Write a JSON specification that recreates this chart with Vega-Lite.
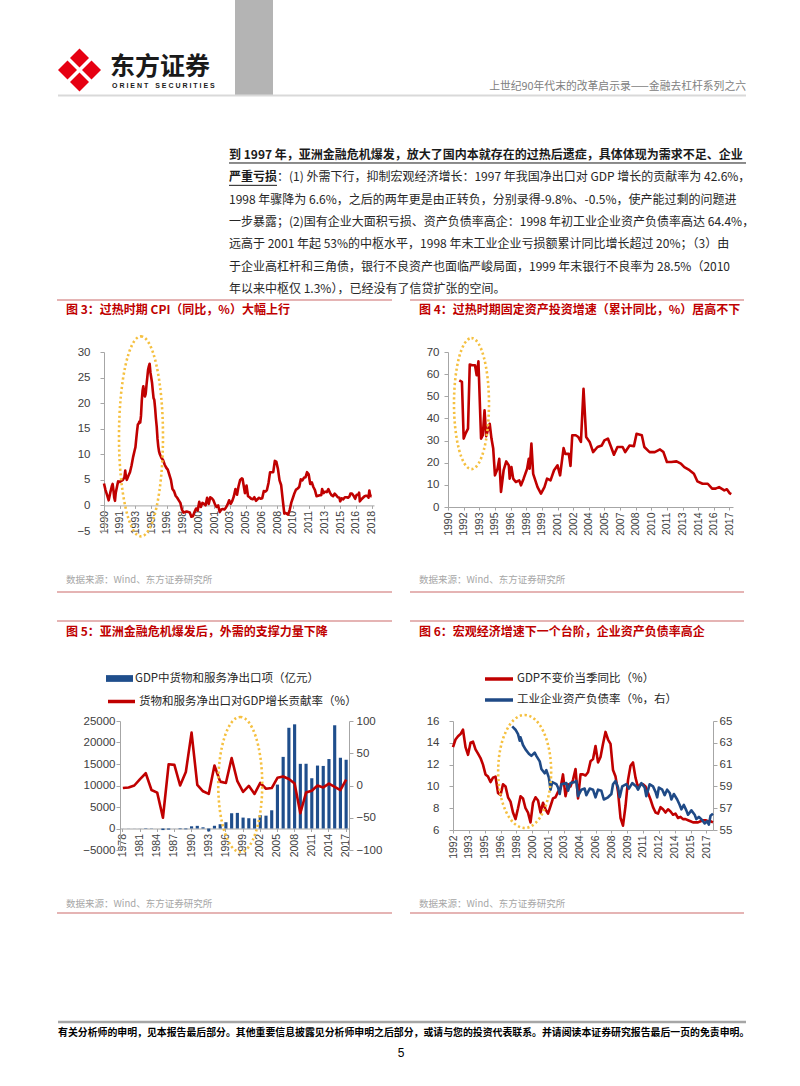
{
"$schema": "https://vega.github.io/schema/vega-lite/v6.json",
"background": "white",
"padding": {"left": 56, "top": 0, "right": 10, "bottom": 10},
"autosize": {"type": "pad"},
"bounds": "flush",
"spacing": 0,
"resolve": {"scale": {"color": "independent", "stroke": "independent"}, "legend": {"color": "independent", "stroke": "independent"}},
"config": {
  "view": {"stroke": null},
  "axis": {"labelFont": "Liberation Sans", "labelColor": "#404040", "labelFontSize": 11.5, "domainColor": "#a6a6a6", "tickColor": "#a6a6a6", "tickSize": 4, "grid": false, "labelPadding": 4, "labelOverlap": false, "labelFlush": false, "title": null},
  "legend": {"labelFont": "Noto Sans CJK SC", "labelFontSize": 11.5, "labelColor": "#262626", "labelLimit": 400, "padding": 0, "labelOffset": 2}
},
"datasets": {
  "para": [
    {"line": 1, "part": 1, "em": true, "t": "到 1997 年，亚洲金融危机爆发，放大了国内本就存在的过热后遗症，具体体现为需求不足、企业"},
    {"line": 2, "part": 1, "em": true, "t": "严重亏损"},
    {"line": 2, "part": 2, "em": false, "t": "：(1) 外需下行，抑制宏观经济增长：1997 年我国净出口对 GDP 增长的贡献率为 42.6%，"},
    {"line": 3, "part": 1, "em": false, "t": "1998 年骤降为 6.6%，之后的两年更是由正转负，分别录得-9.8%、-0.5%，使产能过剩的问题进"},
    {"line": 4, "part": 1, "em": false, "t": "一步暴露；(2)国有企业大面积亏损、资产负债率高企：1998 年初工业企业资产负债率高达 64.4%，"},
    {"line": 5, "part": 1, "em": false, "t": "远高于 2001 年起 53%的中枢水平，1998 年末工业企业亏损额累计同比增长超过 20%；（3）由"},
    {"line": 6, "part": 1, "em": false, "t": "于企业高杠杆和三角债，银行不良资产也面临严峻局面，1999 年末银行不良率为 28.5%（2010"},
    {"line": 7, "part": 1, "em": false, "t": "年以来中枢仅 1.3%），已经没有了信贷扩张的空间。"}
  ],
  "cpi": [
    {"d":"1990-01","v":4.3},{"d":"1990-03","v":3.0},{"d":"1990-05","v":2.0},{"d":"1990-07","v":1.0},{"d":"1990-09","v":2.5},{"d":"1990-11","v":3.8},{"d":"1990-12","v":4.2},
    {"d":"1991-01","v":3.0},{"d":"1991-02","v":1.5},{"d":"1991-03","v":0.9},{"d":"1991-04","v":2.5},{"d":"1991-06","v":4.0},{"d":"1991-07","v":4.7},{"d":"1991-09","v":4.6},{"d":"1991-11","v":4.8},
    {"d":"1992-01","v":5.0},{"d":"1992-03","v":5.5},{"d":"1992-04","v":6.8},{"d":"1992-05","v":5.5},{"d":"1992-06","v":5.0},{"d":"1992-08","v":5.8},{"d":"1992-10","v":6.5},{"d":"1992-12","v":7.8},
    {"d":"1993-02","v":9.5},{"d":"1993-04","v":10.8},{"d":"1993-05","v":11.4},{"d":"1993-06","v":13.0},{"d":"1993-07","v":14.5},{"d":"1993-08","v":15.8},{"d":"1993-09","v":16.0},{"d":"1993-10","v":16.4},{"d":"1993-11","v":16.2},{"d":"1993-12","v":17.5},
    {"d":"1994-01","v":20.5},{"d":"1994-02","v":22.5},{"d":"1994-03","v":23.3},{"d":"1994-04","v":22.0},{"d":"1994-05","v":21.3},{"d":"1994-06","v":21.8},{"d":"1994-07","v":23.5},{"d":"1994-08","v":25.0},{"d":"1994-09","v":26.5},{"d":"1994-10","v":27.2},{"d":"1994-11","v":27.7},{"d":"1994-12","v":26.0},
    {"d":"1995-01","v":25.0},{"d":"1995-02","v":24.0},{"d":"1995-03","v":22.5},{"d":"1995-04","v":21.0},{"d":"1995-05","v":20.6},{"d":"1995-06","v":19.0},{"d":"1995-07","v":17.0},{"d":"1995-08","v":15.4},{"d":"1995-09","v":13.0},{"d":"1995-10","v":11.5},{"d":"1995-11","v":10.5},{"d":"1995-12","v":10.0},
    {"d":"1996-02","v":9.3},{"d":"1996-04","v":8.9},{"d":"1996-06","v":8.0},{"d":"1996-08","v":7.4},{"d":"1996-10","v":7.0},{"d":"1996-12","v":6.0},
    {"d":"1997-02","v":5.0},{"d":"1997-04","v":3.2},{"d":"1997-06","v":2.8},{"d":"1997-08","v":1.9},{"d":"1997-10","v":1.5},{"d":"1997-12","v":1.0},
    {"d":"1998-02","v":0.5},{"d":"1998-04","v":-0.8},{"d":"1998-06","v":-1.4},{"d":"1998-08","v":-1.3},{"d":"1998-10","v":-1.2},{"d":"1998-12","v":-1.3},
    {"d":"1999-02","v":-1.4},{"d":"1999-04","v":-2.2},{"d":"1999-06","v":-2.1},{"d":"1999-08","v":-1.3},{"d":"1999-10","v":-0.6},{"d":"1999-12","v":-1.0},
    {"d":"2000-02","v":0.7},{"d":"2000-04","v":-0.3},{"d":"2000-06","v":0.5},{"d":"2000-08","v":0.3},{"d":"2000-10","v":0.0},{"d":"2000-12","v":1.5},
    {"d":"2001-02","v":0.3},{"d":"2001-04","v":1.6},{"d":"2001-06","v":1.4},{"d":"2001-08","v":1.0},{"d":"2001-10","v":0.2},{"d":"2001-12","v":-0.3},
    {"d":"2002-02","v":0.0},{"d":"2002-04","v":-1.3},{"d":"2002-06","v":-0.8},{"d":"2002-08","v":-0.7},{"d":"2002-10","v":-0.8},{"d":"2002-12","v":-0.4},
    {"d":"2003-02","v":0.2},{"d":"2003-04","v":1.0},{"d":"2003-06","v":0.3},{"d":"2003-08","v":0.9},{"d":"2003-10","v":1.8},{"d":"2003-12","v":3.2},
    {"d":"2004-02","v":2.1},{"d":"2004-04","v":3.8},{"d":"2004-06","v":5.0},{"d":"2004-08","v":5.3},{"d":"2004-09","v":5.2},{"d":"2004-10","v":4.3},{"d":"2004-12","v":2.4},
    {"d":"2005-02","v":3.9},{"d":"2005-04","v":1.8},{"d":"2005-06","v":1.6},{"d":"2005-08","v":1.3},{"d":"2005-10","v":1.2},{"d":"2005-12","v":1.6},
    {"d":"2006-02","v":0.9},{"d":"2006-04","v":1.2},{"d":"2006-06","v":1.5},{"d":"2006-08","v":1.3},{"d":"2006-10","v":1.4},{"d":"2006-12","v":2.8},
    {"d":"2007-02","v":2.7},{"d":"2007-04","v":3.0},{"d":"2007-06","v":4.4},{"d":"2007-08","v":6.5},{"d":"2007-10","v":6.5},{"d":"2007-12","v":6.5},
    {"d":"2008-02","v":8.7},{"d":"2008-04","v":8.5},{"d":"2008-06","v":7.1},{"d":"2008-08","v":4.9},{"d":"2008-10","v":4.0},{"d":"2008-12","v":1.2},
    {"d":"2009-02","v":-1.6},{"d":"2009-04","v":-1.5},{"d":"2009-06","v":-1.7},{"d":"2009-07","v":-1.8},{"d":"2009-09","v":-0.8},{"d":"2009-11","v":0.6},
    {"d":"2010-01","v":1.5},{"d":"2010-03","v":2.4},{"d":"2010-05","v":3.1},{"d":"2010-07","v":3.3},{"d":"2010-09","v":3.6},{"d":"2010-11","v":5.1},
    {"d":"2011-01","v":4.9},{"d":"2011-03","v":5.4},{"d":"2011-05","v":5.5},{"d":"2011-07","v":6.5},{"d":"2011-09","v":6.1},{"d":"2011-11","v":4.2},
    {"d":"2012-01","v":4.5},{"d":"2012-03","v":3.6},{"d":"2012-05","v":3.0},{"d":"2012-07","v":1.8},{"d":"2012-09","v":1.9},{"d":"2012-11","v":2.0},
    {"d":"2013-01","v":2.0},{"d":"2013-02","v":3.2},{"d":"2013-04","v":2.4},{"d":"2013-06","v":2.7},{"d":"2013-08","v":2.6},{"d":"2013-10","v":3.2},{"d":"2013-12","v":2.5},
    {"d":"2014-02","v":2.0},{"d":"2014-04","v":1.8},{"d":"2014-06","v":2.3},{"d":"2014-08","v":2.0},{"d":"2014-10","v":1.6},{"d":"2014-12","v":1.5},
    {"d":"2015-01","v":0.8},{"d":"2015-03","v":1.4},{"d":"2015-05","v":1.2},{"d":"2015-07","v":1.6},{"d":"2015-09","v":1.6},{"d":"2015-11","v":1.5},
    {"d":"2016-01","v":1.8},{"d":"2016-02","v":2.3},{"d":"2016-04","v":2.3},{"d":"2016-06","v":1.9},{"d":"2016-08","v":1.3},{"d":"2016-10","v":2.1},{"d":"2016-12","v":2.1},
    {"d":"2017-01","v":2.5},{"d":"2017-02","v":0.8},{"d":"2017-04","v":1.2},{"d":"2017-06","v":1.5},{"d":"2017-08","v":1.8},{"d":"2017-10","v":1.9},{"d":"2017-12","v":1.8},
    {"d":"2018-01","v":1.5},{"d":"2018-02","v":2.9},{"d":"2018-03","v":2.1},{"d":"2018-04","v":1.8},{"d":"2018-05","v":1.8}
  ],
  "fai": [
    {"d":"1991-08","v":57.2},{"d":"1991-11","v":56.5},{"d":"1992-01","v":30.9},{"d":"1992-03","v":33.0},{"d":"1992-06","v":35.4},{"d":"1992-08","v":64.3},{"d":"1992-11","v":64.0},
    {"d":"1993-02","v":64.0},{"d":"1993-04","v":59.5},{"d":"1993-06","v":65.8},{"d":"1993-09","v":30.9},{"d":"1993-11","v":32.4},
    {"d":"1994-01","v":43.7},{"d":"1994-03","v":32.0},{"d":"1994-07","v":37.6},{"d":"1994-09","v":30.9},{"d":"1994-11","v":26.4},
    {"d":"1995-01","v":14.3},{"d":"1995-04","v":17.3},{"d":"1995-06","v":21.8},{"d":"1995-08","v":6.8},{"d":"1995-11","v":16.6},
    {"d":"1996-02","v":20.6},{"d":"1996-05","v":18.8},{"d":"1996-06","v":12.8},{"d":"1996-08","v":18.0},{"d":"1996-10","v":12.8},
    {"d":"1997-01","v":11.3},{"d":"1997-05","v":12.0},{"d":"1997-07","v":9.8},{"d":"1997-10","v":12.8},
    {"d":"1998-02","v":17.3},{"d":"1998-04","v":21.8},{"d":"1998-05","v":17.3},{"d":"1998-07","v":28.6},{"d":"1998-09","v":15.0},
    {"d":"1999-02","v":9.0},{"d":"1999-06","v":6.0},{"d":"1999-10","v":9.0},
    {"d":"2000-01","v":12.8},{"d":"2000-05","v":12.0},{"d":"2000-09","v":16.6},
    {"d":"2001-01","v":18.8},{"d":"2001-04","v":14.3},{"d":"2001-08","v":26.6},{"d":"2001-10","v":24.0},
    {"d":"2002-02","v":24.0},{"d":"2002-04","v":18.5},{"d":"2002-06","v":32.4},{"d":"2002-10","v":32.4},
    {"d":"2003-01","v":31.6},{"d":"2003-04","v":29.4},{"d":"2003-07","v":53.4},{"d":"2003-10","v":31.6},
    {"d":"2004-02","v":29.4},{"d":"2004-06","v":24.8},{"d":"2004-11","v":27.1},
    {"d":"2005-04","v":27.8},{"d":"2005-07","v":30.1},{"d":"2005-11","v":30.9},
    {"d":"2006-02","v":27.8},{"d":"2006-06","v":23.6},{"d":"2006-10","v":27.1},
    {"d":"2007-04","v":27.1},{"d":"2007-07","v":24.8},{"d":"2007-12","v":27.8},
    {"d":"2008-05","v":27.5},{"d":"2008-08","v":33.1},{"d":"2009-02","v":32.4},{"d":"2009-05","v":27.1},{"d":"2009-11","v":24.8},
    {"d":"2010-05","v":24.8},{"d":"2010-11","v":26.0},{"d":"2011-03","v":24.8},{"d":"2011-07","v":20.3},{"d":"2011-12","v":20.3},
    {"d":"2012-06","v":20.6},{"d":"2012-11","v":19.6},{"d":"2013-03","v":18.0},{"d":"2013-09","v":16.6},
    {"d":"2014-02","v":15.0},{"d":"2014-06","v":11.6},{"d":"2014-12","v":10.5},{"d":"2015-06","v":10.5},{"d":"2015-11","v":8.3},
    {"d":"2016-03","v":8.3},{"d":"2016-07","v":9.0},{"d":"2017-01","v":7.5},{"d":"2017-04","v":8.0},{"d":"2017-07","v":6.3},{"d":"2017-09","v":5.8}
  ],
  "trade": [
    {"year":1978,"net":-11,"rate":-4},{"year":1979,"net":-20,"rate":-3},{"year":1980,"net":-15,"rate":0},{"year":1981,"net":17,"rate":10},
    {"year":1982,"net":91,"rate":19},{"year":1983,"net":51,"rate":-7},{"year":1984,"net":1,"rate":-11},{"year":1985,"net":-367,"rate":-50},
    {"year":1986,"net":-255,"rate":33},{"year":1987,"net":11,"rate":32},{"year":1988,"net":-151,"rate":0},{"year":1989,"net":-185,"rate":21},
    {"year":1990,"net":510,"rate":82},{"year":1991,"net":617,"rate":1},{"year":1992,"net":276,"rate":-9},{"year":1993,"net":-680,"rate":-13},
    {"year":1994,"net":634,"rate":31},{"year":1995,"net":998,"rate":6},{"year":1996,"net":1459,"rate":4},{"year":1997,"net":3550,"rate":42.6},
    {"year":1998,"net":3629,"rate":6.6},{"year":1999,"net":2537,"rate":-9.8},{"year":2000,"net":2390,"rate":-0.5},{"year":2001,"net":2325,"rate":-13},
    {"year":2002,"net":3094,"rate":4},{"year":2003,"net":2986,"rate":-5},{"year":2004,"net":4236,"rate":-4},{"year":2005,"net":10209,"rate":12},
    {"year":2006,"net":16655,"rate":14},{"year":2007,"net":23423,"rate":10},{"year":2008,"net":24227,"rate":3},{"year":2009,"net":15037,"rate":-43},
    {"year":2010,"net":15057,"rate":-11},{"year":2011,"net":11688,"rate":-8},{"year":2012,"net":14636,"rate":0},{"year":2013,"net":14552,"rate":-3},
    {"year":2014,"net":16152,"rate":3},{"year":2015,"net":24007,"rate":-2},{"year":2016,"net":16452,"rate":-7},{"year":2017,"net":15990,"rate":9}
  ],
  "gdp": [
    {"d":"1992-03","v":13.6},{"d":"1992-06","v":14.3},{"d":"1992-09","v":14.6},{"d":"1992-12","v":14.8},
    {"d":"1993-03","v":15.2},{"d":"1993-06","v":13.6},{"d":"1993-09","v":12.9},{"d":"1993-12","v":14.0},
    {"d":"1994-03","v":14.1},{"d":"1994-06","v":13.4},{"d":"1994-09","v":13.0},{"d":"1994-12","v":12.6},
    {"d":"1995-03","v":12.0},{"d":"1995-06","v":11.1},{"d":"1995-09","v":10.9},{"d":"1995-12","v":10.4},
    {"d":"1996-03","v":10.8},{"d":"1996-06","v":10.9},{"d":"1996-09","v":9.4},{"d":"1996-12","v":9.2},
    {"d":"1997-03","v":10.2},{"d":"1997-06","v":10.0},{"d":"1997-09","v":9.0},{"d":"1997-12","v":8.6},
    {"d":"1998-03","v":7.6},{"d":"1998-06","v":7.0},{"d":"1998-09","v":8.0},{"d":"1998-12","v":9.1},
    {"d":"1999-03","v":8.9},{"d":"1999-06","v":8.0},{"d":"1999-09","v":7.6},{"d":"1999-12","v":6.7},
    {"d":"2000-03","v":8.5},{"d":"2000-06","v":9.0},{"d":"2000-09","v":8.7},{"d":"2000-12","v":7.6},
    {"d":"2001-03","v":8.5},{"d":"2001-06","v":7.9},{"d":"2001-09","v":7.5},{"d":"2001-12","v":8.2},
    {"d":"2002-03","v":8.9},{"d":"2002-06","v":9.0},{"d":"2002-09","v":9.5},{"d":"2002-12","v":9.8},
    {"d":"2003-03","v":11.1},{"d":"2003-06","v":9.1},{"d":"2003-09","v":10.2},{"d":"2003-12","v":10.0},
    {"d":"2004-03","v":10.6},{"d":"2004-06","v":11.6},{"d":"2004-09","v":8.9},{"d":"2004-12","v":11.1},
    {"d":"2005-03","v":11.1},{"d":"2005-06","v":11.0},{"d":"2005-09","v":11.3},{"d":"2005-12","v":12.3},
    {"d":"2006-03","v":12.5},{"d":"2006-06","v":13.7},{"d":"2006-09","v":12.2},{"d":"2006-12","v":12.7},
    {"d":"2007-03","v":13.9},{"d":"2007-06","v":15.0},{"d":"2007-09","v":14.3},{"d":"2007-12","v":13.9},
    {"d":"2008-03","v":11.5},{"d":"2008-06","v":10.9},{"d":"2008-09","v":9.5},{"d":"2008-12","v":7.1},
    {"d":"2009-03","v":6.4},{"d":"2009-06","v":8.2},{"d":"2009-09","v":10.6},{"d":"2009-12","v":11.9},
    {"d":"2010-03","v":12.2},{"d":"2010-06","v":10.8},{"d":"2010-09","v":9.9},{"d":"2010-12","v":10.2},
    {"d":"2011-03","v":10.2},{"d":"2011-06","v":10.0},{"d":"2011-09","v":9.4},{"d":"2011-12","v":8.8},
    {"d":"2012-03","v":8.1},{"d":"2012-06","v":7.6},{"d":"2012-09","v":7.5},{"d":"2012-12","v":8.1},
    {"d":"2013-03","v":7.9},{"d":"2013-06","v":7.6},{"d":"2013-09","v":7.9},{"d":"2013-12","v":7.7},
    {"d":"2014-03","v":7.4},{"d":"2014-06","v":7.5},{"d":"2014-09","v":7.1},{"d":"2014-12","v":7.2},
    {"d":"2015-03","v":7.0},{"d":"2015-06","v":7.0},{"d":"2015-09","v":6.9},{"d":"2015-12","v":6.8},
    {"d":"2016-03","v":6.7},{"d":"2016-06","v":6.7},{"d":"2016-09","v":6.7},{"d":"2016-12","v":6.8},
    {"d":"2017-03","v":6.9},{"d":"2017-06","v":6.9},{"d":"2017-09","v":6.8},{"d":"2017-12","v":6.8},{"d":"2018-03","v":6.7}
  ],
  "lev": [
    {"d":"1998-02","v":64.5},{"d":"1998-06","v":64.2},{"d":"1998-09","v":63.8},{"d":"1998-11","v":63.2},{"d":"1998-12","v":63.5},
    {"d":"1999-03","v":62.8},{"d":"1999-06","v":62.4},{"d":"1999-10","v":62.0},{"d":"2000-01","v":61.8},{"d":"2000-05","v":62.1},
    {"d":"2000-07","v":61.8},{"d":"2000-11","v":61.3},{"d":"2001-01","v":60.6},{"d":"2001-05","v":60.2},{"d":"2001-07","v":60.5},
    {"d":"2001-10","v":59.8},{"d":"2001-12","v":58.7},{"d":"2002-02","v":59.4},{"d":"2002-07","v":59.2},{"d":"2002-09","v":58.9},
    {"d":"2002-11","v":58.3},{"d":"2003-01","v":59.2},{"d":"2003-07","v":59.3},{"d":"2003-09","v":58.6},{"d":"2003-12","v":59.3},
    {"d":"2004-05","v":59.4},{"d":"2004-07","v":59.5},{"d":"2004-09","v":58.1},{"d":"2005-01","v":58.7},{"d":"2005-05","v":58.8},
    {"d":"2005-07","v":58.2},{"d":"2005-11","v":58.8},{"d":"2006-03","v":58.7},{"d":"2006-06","v":58.0},{"d":"2006-09","v":58.7},
    {"d":"2007-01","v":58.6},{"d":"2007-04","v":57.8},{"d":"2007-09","v":58.0},{"d":"2008-01","v":58.3},{"d":"2008-03","v":59.2},
    {"d":"2008-06","v":59.5},{"d":"2008-09","v":58.9},{"d":"2008-11","v":58.0},{"d":"2009-02","v":59.0},{"d":"2009-07","v":59.2},
    {"d":"2009-10","v":58.8},{"d":"2010-02","v":59.3},{"d":"2010-07","v":59.0},{"d":"2010-09","v":58.7},{"d":"2011-01","v":59.3},
    {"d":"2011-05","v":58.9},{"d":"2011-07","v":58.1},{"d":"2011-11","v":59.2},{"d":"2012-03","v":59.0},{"d":"2012-06","v":58.5},
    {"d":"2012-08","v":58.0},{"d":"2012-10","v":58.9},{"d":"2013-02","v":58.7},{"d":"2013-05","v":58.2},{"d":"2013-08","v":58.7},
    {"d":"2013-11","v":58.4},{"d":"2014-01","v":57.8},{"d":"2014-04","v":58.3},{"d":"2014-08","v":57.8},{"d":"2014-11","v":57.3},
    {"d":"2015-01","v":56.9},{"d":"2015-04","v":57.3},{"d":"2015-07","v":56.8},{"d":"2015-09","v":56.4},{"d":"2016-01","v":56.8},
    {"d":"2016-05","v":56.4},{"d":"2016-07","v":56.0},{"d":"2016-10","v":56.2},{"d":"2017-02","v":55.9},{"d":"2017-05","v":55.6},
    {"d":"2017-08","v":55.8},{"d":"2017-10","v":55.5},{"d":"2017-12","v":56.3},{"d":"2018-03","v":56.5}
  ]
},
"vconcat": [
  {
    "width": 642, "height": 96,
    "layer": [
      {"data": {"values": [{"k": "bar"}]}, "mark": {"type": "rect", "color": "#b4b4b4"}, "encoding": {"x": {"value": 131}, "x2": {"value": 169}, "y": {"value": 0}, "y2": {"value": 95}}},
      {"data": {"values": [{"k": "rule"}]}, "mark": {"type": "rule", "color": "#d9d9d9", "strokeWidth": 2}, "encoding": {"x": {"value": -46}, "x2": {"value": 642}, "y": {"value": 95.5}}},
      {"data": {"values": [{"k": "logo"}]}, "mark": {"type": "point", "shape": "diamond", "filled": true, "color": "#E60012", "size": 1849, "opacity": 1}, "encoding": {"x": {"value": -24.5}, "y": {"value": 70}}},
      {"data": {"values": [{"k": "x1"}]}, "mark": {"type": "rule", "color": "white", "strokeWidth": 3.5}, "encoding": {"x": {"value": -36}, "y": {"value": 58.5}, "x2": {"value": -13}, "y2": {"value": 81.5}}},
      {"data": {"values": [{"k": "x2"}]}, "mark": {"type": "rule", "color": "white", "strokeWidth": 3.5}, "encoding": {"x": {"value": -36}, "y": {"value": 81.5}, "x2": {"value": -13}, "y2": {"value": 58.5}}},
      {"data": {"values": [{"t": "东方证券"}]}, "mark": {"type": "text", "align": "left", "baseline": "middle", "font": "Noto Sans CJK SC", "fontSize": 25, "fontWeight": "bold", "color": "#1a1a1a"}, "encoding": {"text": {"field": "t"}, "x": {"value": 6}, "y": {"value": 67}}},
      {"data": {"values": [{"t": "O R I E N T\u2002\u2002S E C U R I T I E S"}]}, "mark": {"type": "text", "align": "left", "baseline": "middle", "font": "Liberation Sans", "fontSize": 7, "fontWeight": "bold", "color": "#1a1a1a"}, "encoding": {"text": {"field": "t"}, "x": {"value": 8}, "y": {"value": 86}}},
      {"data": {"values": [{"t": "上世纪90年代末的改革启示录——金融去杠杆系列之六"}]}, "mark": {"type": "text", "align": "right", "baseline": "middle", "font": "Noto Sans CJK SC", "fontSize": 10.8, "color": "#808080"}, "encoding": {"text": {"field": "t"}, "x": {"value": 642}, "y": {"value": 87}}}
    ]
  },
  {
    "width": 642, "height": 256,
    "data": {"name": "para"},
    "layer": [
      {"transform": [{"filter": "datum.em"}], "mark": {"type": "text", "align": "left", "baseline": "middle", "font": "Noto Sans CJK SC", "fontSize": 12, "fontWeight": "bold", "color": "#1a1a1a"},
       "encoding": {"x": {"value": 125}, "y": {"field": "line", "type": "quantitative", "scale": {"domain": [-1.642, 9.822], "reverse": true, "nice": false, "zero": false}, "axis": null}, "text": {"field": "t"}}},
      {"transform": [{"filter": "!datum.em && datum.part == 1"}], "mark": {"type": "text", "align": "left", "baseline": "middle", "font": "Noto Sans CJK SC", "fontSize": 12, "color": "#262626"},
       "encoding": {"x": {"value": 125}, "y": {"field": "line", "type": "quantitative", "axis": null}, "text": {"field": "t"}}},
      {"transform": [{"filter": "datum.part == 2"}], "mark": {"type": "text", "align": "left", "baseline": "middle", "font": "Noto Sans CJK SC", "fontSize": 12, "color": "#262626"},
       "encoding": {"x": {"value": 173}, "y": {"field": "line", "type": "quantitative", "axis": null}, "text": {"field": "t"}}},
      {"transform": [{"filter": "datum.em && datum.line == 1"}], "mark": {"type": "rule", "color": "#1a1a1a", "strokeWidth": 1},
       "encoding": {"x": {"value": 125}, "x2": {"value": 642}, "y": {"field": "line", "type": "quantitative", "axis": null}, "yOffset": {"value": 8}}},
      {"transform": [{"filter": "datum.em && datum.line == 2"}], "mark": {"type": "rule", "color": "#1a1a1a", "strokeWidth": 1},
       "encoding": {"x": {"value": 125}, "x2": {"value": 173}, "y": {"field": "line", "type": "quantitative", "axis": null}, "yOffset": {"value": 8}}}
    ]
  },
  {
    "width": 629, "height": 179,
    "layer": [
      {"data": {"name": "cpi"}, "mark": {"type": "line", "color": "#C00000", "strokeWidth": 2.6, "strokeJoin": "round"},
       "encoding": {
         "x": {"field": "d", "type": "temporal", "scale": {"type": "utc", "range": [0, 270], "domain": [{"year": 1990, "month": 1, "date": 1, "utc": true}, {"year": 2018, "month": 8, "date": 1, "utc": true}]},
               "axis": {"orient": "bottom", "offset": -25.6, "labelExpr": "utcFormat(datum.value, '%Y')", "labelAngle": -90, "labelFontSize": 10.5, "labelPadding": 2, "tickSize": 3,
                        "values": [{"year":1990,"month":1,"date":1,"utc":true},{"year":1991,"month":9,"date":1,"utc":true},{"year":1993,"month":5,"date":1,"utc":true},{"year":1995,"month":1,"date":1,"utc":true},{"year":1996,"month":9,"date":1,"utc":true},{"year":1998,"month":5,"date":1,"utc":true},{"year":2000,"month":1,"date":1,"utc":true},{"year":2001,"month":9,"date":1,"utc":true},{"year":2003,"month":5,"date":1,"utc":true},{"year":2005,"month":1,"date":1,"utc":true},{"year":2006,"month":9,"date":1,"utc":true},{"year":2008,"month":5,"date":1,"utc":true},{"year":2010,"month":1,"date":1,"utc":true},{"year":2011,"month":9,"date":1,"utc":true},{"year":2013,"month":5,"date":1,"utc":true},{"year":2015,"month":1,"date":1,"utc":true},{"year":2016,"month":9,"date":1,"utc":true},{"year":2018,"month":5,"date":1,"utc":true}]}},
         "y": {"field": "v", "type": "quantitative", "scale": {"domain": [-5, 30], "range": [179, 0], "nice": false, "zero": false}, "axis": {"orient": "left", "labelPadding": 10, "values": [-5, 0, 5, 10, 15, 20, 25, 30]}}
       }},
      {"data": {"values": [{"d": "1993-12-01", "v": 13.5}]},
       "mark": {"type": "point", "shape": "M0,-1C0.1215,-1,0.22,-0.5523,0.22,0C0.22,0.5523,0.1215,1,0,1C-0.1215,1,-0.22,0.5523,-0.22,0C-0.22,-0.5523,-0.1215,-1,0,-1Z", "size": 40000, "filled": false, "stroke": "#F5C040", "strokeWidth": 2.6, "strokeDash": [2.2, 2.6], "opacity": 1},
       "encoding": {
         "x": {"field": "d", "type": "temporal", "scale": {"type": "utc", "range": [0, 270], "domain": [{"year": 1990, "month": 1, "date": 1, "utc": true}, {"year": 2018, "month": 8, "date": 1, "utc": true}]}, "axis": null},
         "y": {"field": "v", "type": "quantitative", "scale": {"domain": [-5, 30], "range": [179, 0], "nice": false, "zero": false}, "axis": null}}},
      {"data": {"name": "fai"}, "mark": {"type": "line", "color": "#C00000", "strokeWidth": 2.6, "strokeJoin": "round"},
       "encoding": {
         "x": {"field": "d", "type": "temporal", "scale": {"type": "utc", "range": [344, 629], "domain": [{"year": 1990, "month": 7, "date": 1, "utc": true}, {"year": 2017, "month": 11, "date": 1, "utc": true}]},
               "axis": {"orient": "bottom", "offset": -24, "labelExpr": "utcFormat(datum.value, '%Y')", "labelAngle": -90, "labelFontSize": 10.5, "labelPadding": 2, "tickSize": 3,
                        "values": [{"year":1990,"month":7,"date":1,"utc":true},{"year":1992,"month":1,"date":1,"utc":true},{"year":1993,"month":7,"date":1,"utc":true},{"year":1995,"month":1,"date":1,"utc":true},{"year":1996,"month":7,"date":1,"utc":true},{"year":1998,"month":1,"date":1,"utc":true},{"year":1999,"month":7,"date":1,"utc":true},{"year":2001,"month":1,"date":1,"utc":true},{"year":2002,"month":7,"date":1,"utc":true},{"year":2004,"month":1,"date":1,"utc":true},{"year":2005,"month":7,"date":1,"utc":true},{"year":2007,"month":1,"date":1,"utc":true},{"year":2008,"month":7,"date":1,"utc":true},{"year":2010,"month":1,"date":1,"utc":true},{"year":2011,"month":7,"date":1,"utc":true},{"year":2013,"month":1,"date":1,"utc":true},{"year":2014,"month":7,"date":1,"utc":true},{"year":2016,"month":1,"date":1,"utc":true},{"year":2017,"month":7,"date":1,"utc":true}]}},
         "y": {"field": "v", "type": "quantitative", "scale": {"domain": [0, 70], "range": [155, 0], "nice": false}, "axis": {"orient": "left", "offset": -344, "labelPadding": 5, "values": [0, 10, 20, 30, 40, 50, 60, 70]}}
       }},
      {"data": {"values": [{"d": "1992-10-01", "v": 46.7}]},
       "mark": {"type": "point", "shape": "M0,-1C0.1475,-1,0.267,-0.5523,0.267,0C0.267,0.5523,0.1475,1,0,1C-0.1475,1,-0.267,0.5523,-0.267,0C-0.267,-0.5523,-0.1475,-1,0,-1Z", "size": 17161, "filled": false, "stroke": "#F5C040", "strokeWidth": 2.6, "strokeDash": [2.2, 2.6], "opacity": 1},
       "encoding": {
         "x": {"field": "d", "type": "temporal", "scale": {"type": "utc", "range": [344, 629], "domain": [{"year": 1990, "month": 7, "date": 1, "utc": true}, {"year": 2017, "month": 11, "date": 1, "utc": true}]}, "axis": null},
         "y": {"field": "v", "type": "quantitative", "scale": {"domain": [0, 70], "range": [155, 0], "nice": false}, "axis": null}}},
      {"data": {"values": [{"t": "图 3：过热时期 CPI（同比，%）大幅上行"}]}, "mark": {"type": "text", "align": "left", "baseline": "middle", "font": "Noto Sans CJK SC", "fontSize": 12, "fontWeight": "bold", "color": "#C00000"}, "encoding": {"text": {"field": "t"}, "x": {"value": -38}, "y": {"value": -42}}},
      {"data": {"values": [{"t": "图 4：过热时期固定资产投资增速（累计同比，%）居高不下"}]}, "mark": {"type": "text", "align": "left", "baseline": "middle", "font": "Noto Sans CJK SC", "fontSize": 12, "fontWeight": "bold", "color": "#C00000"}, "encoding": {"text": {"field": "t"}, "x": {"value": 315}, "y": {"value": -42}}},
      {"data": {"values": [{"t": "数据来源：Wind、东方证券研究所", "p": "left"}]}, "mark": {"type": "text", "align": "left", "baseline": "middle", "font": "Noto Sans CJK SC", "fontSize": 9.5, "color": "#a6a6a6"}, "encoding": {"text": {"field": "t"}, "x": {"value": -38}, "y": {"value": 228}}},
      {"data": {"values": [{"t": "数据来源：Wind、东方证券研究所", "p": "right"}]}, "mark": {"type": "text", "align": "left", "baseline": "middle", "font": "Noto Sans CJK SC", "fontSize": 9.5, "color": "#a6a6a6"}, "encoding": {"text": {"field": "t"}, "x": {"value": 315}, "y": {"value": 228}}},
      {"data": {"values": [{"k": "top-left"}]}, "mark": {"type": "rule", "color": "#DC9B9B", "strokeWidth": 1.5}, "encoding": {"x": {"value": -47}, "x2": {"value": 288}, "y": {"value": -52}}},
      {"data": {"values": [{"k": "bottom-left"}]}, "mark": {"type": "rule", "color": "#DC9B9B", "strokeWidth": 1.5}, "encoding": {"x": {"value": -47}, "x2": {"value": 288}, "y": {"value": 240}}},
      {"data": {"values": [{"k": "top-right"}]}, "mark": {"type": "rule", "color": "#DC9B9B", "strokeWidth": 1.5}, "encoding": {"x": {"value": 306}, "x2": {"value": 640}, "y": {"value": -52}}},
      {"data": {"values": [{"k": "bottom-right"}]}, "mark": {"type": "rule", "color": "#DC9B9B", "strokeWidth": 1.5}, "encoding": {"x": {"value": 306}, "x2": {"value": 640}, "y": {"value": 240}}}
    ],
    "resolve": {"scale": {"x": "independent", "y": "independent"}}
  },
  {"width": 10, "height": 190, "data": {"values": [{}]}, "mark": {"type": "point", "opacity": 0}, "encoding": {}},
  {
    "width": 609, "height": 129,
    "layer": [
      {"data": {"name": "trade"}, "mark": {"type": "bar", "color": "#1F4E8C"},
       "encoding": {
         "x": {"field": "year", "type": "ordinal", "scale": {"range": [16, 245], "paddingInner": 0.45, "paddingOuter": 0.225},
               "axis": {"orient": "bottom", "offset": -21.5, "values": [1978,1981,1984,1987,1990,1993,1996,1999,2002,2005,2008,2011,2014,2017], "labelAngle": -90, "labelFontSize": 10.5, "labelPadding": 2, "tickSize": 3}},
         "y": {"field": "net", "type": "quantitative", "scale": {"domain": [-5000, 25000], "range": [129, 0], "nice": false, "zero": false}, "axis": {"orient": "left", "offset": -16, "labelPadding": 1, "values": [-5000, 0, 5000, 10000, 15000, 20000, 25000], "format": "d"}},
         "color": {"datum": "GDP中货物和服务净出口项（亿元）", "scale": {"range": ["#1F4E8C"]},
                   "legend": {"orient": "none", "legendX": 2, "legendY": -56, "title": null, "symbolType": "M-1,-0.25H1V0.25H-1Z", "symbolSize": 729, "symbolStrokeWidth": 0}}
       }},
      {"data": {"name": "trade"}, "mark": {"type": "line", "strokeWidth": 2.6, "strokeJoin": "round"},
       "encoding": {
         "x": {"field": "year", "type": "ordinal", "scale": {"range": [16, 245], "paddingInner": 0.45, "paddingOuter": 0.225}, "axis": null},
         "y": {"field": "rate", "type": "quantitative", "scale": {"domain": [-100, 100], "range": [129, 0], "nice": false}, "axis": {"orient": "right", "offset": -364, "labelPadding": 3, "values": [-100, -50, 0, 50, 100]}},
         "stroke": {"datum": "货物和服务净出口对GDP增长贡献率（%）", "scale": {"range": ["#C00000"]},
                    "legend": {"orient": "none", "legendX": 2, "legendY": -35, "title": null, "symbolType": "stroke", "symbolSize": 729, "symbolStrokeWidth": 3.5}}
       }},
      {"data": {"values": [{"x": 1998.5, "net": 10233}]},
       "mark": {"type": "point", "shape": "M0,-1C0.18,-1,0.326,-0.5523,0.326,0C0.326,0.5523,0.18,1,0,1C-0.18,1,-0.326,0.5523,-0.326,0C-0.326,-0.5523,-0.18,-1,0,-1Z", "size": 18225, "filled": false, "stroke": "#F5C040", "strokeWidth": 2.6, "strokeDash": [2.2, 2.6], "opacity": 1},
       "encoding": {
         "x": {"field": "x", "type": "quantitative", "scale": {"domain": [1977.5, 2017.5], "range": [16, 245], "nice": false, "zero": false}, "axis": null},
         "y": {"field": "net", "type": "quantitative", "scale": {"domain": [-5000, 25000], "range": [129, 0], "nice": false, "zero": false}, "axis": null}}},
      {"data": {"name": "gdp"}, "mark": {"type": "line", "strokeWidth": 2.6, "strokeJoin": "round"},
       "encoding": {
         "x": {"field": "d", "type": "temporal", "scale": {"type": "utc", "range": [349, 609], "domain": [{"year": 1992, "month": 3, "date": 1, "utc": true}, {"year": 2018, "month": 3, "date": 1, "utc": true}]},
               "axis": {"orient": "bottom", "offset": -20, "labelExpr": "utcFormat(datum.value, '%Y')", "labelAngle": -90, "labelFontSize": 10.5, "labelPadding": 2, "tickSize": 3,
                        "values": [{"year":1992,"month":3,"date":1,"utc":true},{"year":1993,"month":10,"date":1,"utc":true},{"year":1995,"month":5,"date":1,"utc":true},{"year":1996,"month":12,"date":1,"utc":true},{"year":1998,"month":7,"date":1,"utc":true},{"year":2000,"month":2,"date":1,"utc":true},{"year":2001,"month":9,"date":1,"utc":true},{"year":2003,"month":4,"date":1,"utc":true},{"year":2004,"month":11,"date":1,"utc":true},{"year":2006,"month":6,"date":1,"utc":true},{"year":2008,"month":1,"date":1,"utc":true},{"year":2009,"month":8,"date":1,"utc":true},{"year":2011,"month":3,"date":1,"utc":true},{"year":2012,"month":10,"date":1,"utc":true},{"year":2014,"month":5,"date":1,"utc":true},{"year":2015,"month":12,"date":1,"utc":true},{"year":2017,"month":7,"date":1,"utc":true}]}},
         "y": {"field": "v", "type": "quantitative", "scale": {"domain": [6, 16], "range": [109, 0], "nice": false, "zero": false}, "axis": {"orient": "left", "offset": -349, "labelPadding": 10, "values": [6, 8, 10, 12, 14, 16]}},
         "stroke": {"datum": "GDP不变价当季同比（%）", "scale": {"range": ["#C00000"]},
                    "legend": {"orient": "none", "legendX": 379, "legendY": -58, "title": null, "symbolType": "stroke", "symbolSize": 784, "symbolStrokeWidth": 3.5}}
       }},
      {"data": {"name": "lev"}, "mark": {"type": "line", "strokeWidth": 2.6, "strokeJoin": "round"},
       "encoding": {
         "x": {"field": "d", "type": "temporal", "scale": {"type": "utc", "range": [349, 609], "domain": [{"year": 1992, "month": 3, "date": 1, "utc": true}, {"year": 2018, "month": 3, "date": 1, "utc": true}]}, "axis": null},
         "y": {"field": "v", "type": "quantitative", "scale": {"domain": [55, 65], "range": [109, 0], "nice": false, "zero": false}, "axis": {"orient": "right", "labelPadding": 2, "values": [55, 57, 59, 61, 63, 65]}},
         "color": {"datum": "工业企业资产负债率（%，右）", "scale": {"range": ["#1F4A86"]},
                   "legend": {"orient": "none", "legendX": 379, "legendY": -37, "title": null, "symbolType": "stroke", "symbolSize": 784, "symbolStrokeWidth": 3.5}}
       }},
      {"data": {"values": [{"d": "1999-05-01", "v": 11.37}]},
       "mark": {"type": "point", "shape": "M0,-1C0.259,-1,0.469,-0.5523,0.469,0C0.469,0.5523,0.259,1,0,1C-0.259,1,-0.469,0.5523,-0.469,0C-0.469,-0.5523,-0.259,-1,0,-1Z", "size": 12769, "filled": false, "stroke": "#F5C040", "strokeWidth": 2.6, "strokeDash": [2.2, 2.6], "opacity": 1},
       "encoding": {
         "x": {"field": "d", "type": "temporal", "scale": {"type": "utc", "range": [349, 609], "domain": [{"year": 1992, "month": 3, "date": 1, "utc": true}, {"year": 2018, "month": 3, "date": 1, "utc": true}]}, "axis": null},
         "y": {"field": "v", "type": "quantitative", "scale": {"domain": [6, 16], "range": [109, 0], "nice": false, "zero": false}, "axis": null}}},
      {"data": {"values": [{"t": "图 5：亚洲金融危机爆发后，外需的支撑力量下降"}]}, "mark": {"type": "text", "align": "left", "baseline": "middle", "font": "Noto Sans CJK SC", "fontSize": 12, "fontWeight": "bold", "color": "#C00000"}, "encoding": {"text": {"field": "t"}, "x": {"value": -38}, "y": {"value": -89}}},
      {"data": {"values": [{"t": "图 6：宏观经济增速下一个台阶，企业资产负债率高企"}]}, "mark": {"type": "text", "align": "left", "baseline": "middle", "font": "Noto Sans CJK SC", "fontSize": 12, "fontWeight": "bold", "color": "#C00000"}, "encoding": {"text": {"field": "t"}, "x": {"value": 315}, "y": {"value": -89}}},
      {"data": {"values": [{"t": "数据来源：Wind、东方证券研究所", "p": "left"}]}, "mark": {"type": "text", "align": "left", "baseline": "middle", "font": "Noto Sans CJK SC", "fontSize": 9.5, "color": "#a6a6a6"}, "encoding": {"text": {"field": "t"}, "x": {"value": -38}, "y": {"value": 183}}},
      {"data": {"values": [{"t": "数据来源：Wind、东方证券研究所", "p": "right"}]}, "mark": {"type": "text", "align": "left", "baseline": "middle", "font": "Noto Sans CJK SC", "fontSize": 9.5, "color": "#a6a6a6"}, "encoding": {"text": {"field": "t"}, "x": {"value": 315}, "y": {"value": 183}}},
      {"data": {"values": [{"k": "top-left"}]}, "mark": {"type": "rule", "color": "#DC9B9B", "strokeWidth": 1.5}, "encoding": {"x": {"value": -47}, "x2": {"value": 288}, "y": {"value": -100}}},
      {"data": {"values": [{"k": "bottom-left"}]}, "mark": {"type": "rule", "color": "#DC9B9B", "strokeWidth": 1.5}, "encoding": {"x": {"value": -47}, "x2": {"value": 288}, "y": {"value": 192}}},
      {"data": {"values": [{"k": "top-right"}]}, "mark": {"type": "rule", "color": "#DC9B9B", "strokeWidth": 1.5}, "encoding": {"x": {"value": 306}, "x2": {"value": 640}, "y": {"value": -100}}},
      {"data": {"values": [{"k": "bottom-right"}]}, "mark": {"type": "rule", "color": "#DC9B9B", "strokeWidth": 1.5}, "encoding": {"x": {"value": 306}, "x2": {"value": 640}, "y": {"value": 192}}}
    ],
    "resolve": {"scale": {"x": "independent", "y": "independent", "color": "independent", "stroke": "independent"}}
  },
  {"width": 10, "height": 160, "data": {"values": [{}]}, "mark": {"type": "point", "opacity": 0}, "encoding": {}},
  {
    "width": 642, "height": 60,
    "layer": [
      {"data": {"values": [{"k": "rule"}]}, "mark": {"type": "rule", "color": "#a6a6a6", "strokeWidth": 2.5}, "encoding": {"x": {"value": -46}, "x2": {"value": 642}, "y": {"value": 12}}},
      {"data": {"values": [{"t": "有关分析师的申明，见本报告最后部分。其他重要信息披露见分析师申明之后部分，或请与您的投资代表联系。并请阅读本证券研究报告最后一页的免责申明。"}]}, "mark": {"type": "text", "align": "left", "baseline": "middle", "font": "Noto Sans CJK SC", "fontSize": 9.9, "fontWeight": "bold", "color": "#000000"}, "encoding": {"text": {"field": "t"}, "x": {"value": -46}, "y": {"value": 23}}},
      {"data": {"values": [{"t": "5"}]}, "mark": {"type": "text", "align": "center", "baseline": "middle", "font": "Liberation Sans", "fontSize": 12, "color": "#000000"}, "encoding": {"text": {"field": "t"}, "x": {"value": 297}, "y": {"value": 43}}}
    ]
  }
]
}
